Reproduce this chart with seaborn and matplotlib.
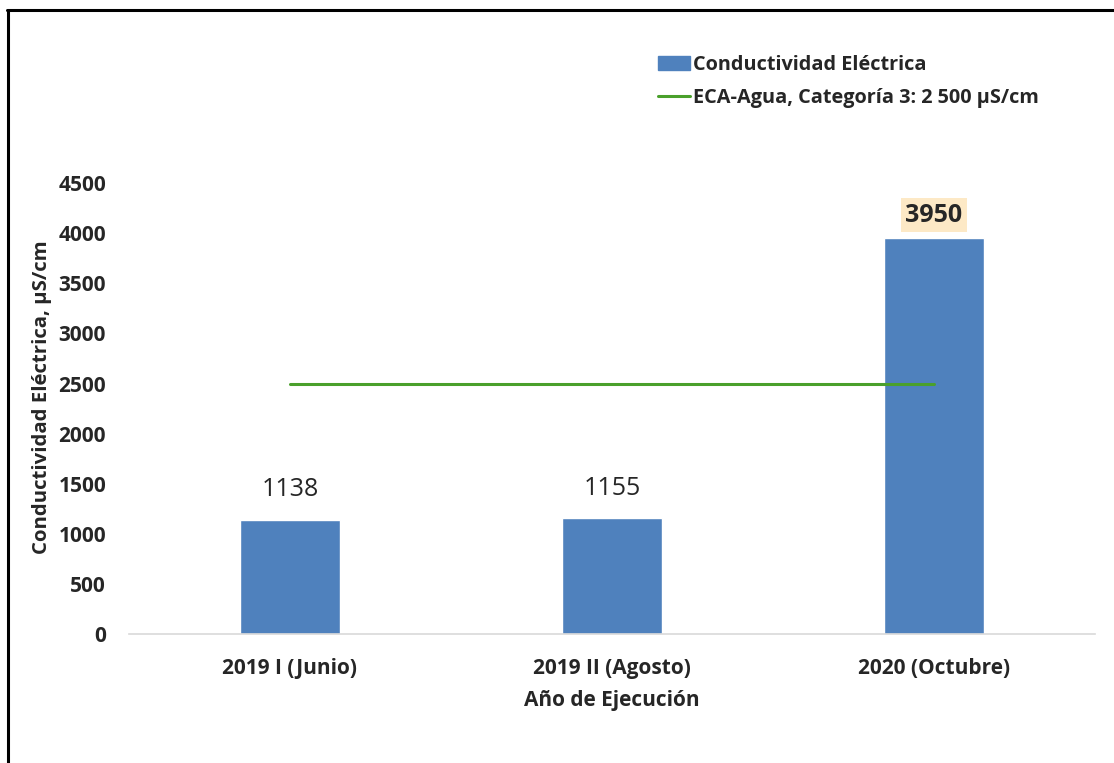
import matplotlib
matplotlib.use("Agg")
import matplotlib.pyplot as plt
import matplotlib.lines as mlines
import matplotlib.patches as mpatches
import pandas as pd
import seaborn as sns

# === data ===
periodos = ['2019 I (Junio)', '2019 II (Agosto)', '2020 (Octubre)']
conductividad = [1138, 1155, 3950]
eca_agua = [2500, 2500, 2500]
yticks = [0, 500, 1000, 1500, 2000, 2500, 3000, 3500, 4000, 4500]

df = pd.DataFrame({'Periodo': periodos, 'CE': conductividad})

sns.set_theme(style="white")
plt.rcParams['font.family'] = ['Open Sans', 'DejaVu Sans']

fig = plt.figure(figsize=(11.14, 7.63), dpi=100)
ax = fig.add_axes([0.1158, 0.169, 0.867, 0.591])

sns.barplot(data=df, x='Periodo', y='CE', color='#4F81BD', width=0.31,
            saturation=1, ax=ax)
ax.plot(range(len(periodos)), eca_agua, color='#4AA02C', lw=2.2)

ax.set_xlim(-0.5, len(periodos) - 0.5)
ax.set_ylim(0, 4500)
ax.set_yticks(yticks)
ax.set_yticklabels([str(t) for t in yticks], fontsize=15, fontweight='bold')
ax.set_xticks(range(len(periodos)))
ax.set_xticklabels(periodos, fontsize=15, fontweight='bold')
ax.tick_params(axis='y', pad=16.5, length=0)
ax.tick_params(axis='x', pad=17.5, length=0)
ax.set_xlabel('Año de Ejecución', fontsize=15, fontweight='bold', labelpad=8)
ax.set_ylabel('Conductividad Eléctrica, µS/cm', fontsize=14.7, fontweight='bold')
ax.yaxis.set_label_coords(-0.08, 0.525)

for s in ['top', 'right', 'left']:
    ax.spines[s].set_visible(False)
ax.spines['bottom'].set_color('#D9D9D9')
ax.spines['bottom'].set_linewidth(1.2)

# data labels
for i, v in enumerate(conductividad):
    if i == len(conductividad) - 1:
        ax.text(i, v + 230, str(v), ha='center', va='center', fontsize=18,
                fontweight='bold',
                bbox=dict(facecolor='#FDE9C6', edgecolor='none', pad=3))
    else:
        ax.text(i, v + 300, str(v), ha='center', va='center', fontsize=18)

# legend
handles = [mpatches.Patch(color='#4F81BD', label='Conductividad Eléctrica'),
           mlines.Line2D([], [], color='#4AA02C', lw=2.2,
                         label='ECA-Agua, Categoría 3: 2 500 µS/cm')]
fig.legend(handles=handles, loc='upper left', bbox_to_anchor=(0.575, 0.951),
           frameon=False, prop={'size': 14.3, 'weight': 'bold'},
           handlelength=1.6, handletextpad=0.15, labelspacing=0.62)

# outer frame (left and top edges)
fig.add_artist(mlines.Line2D([0.0072, 0.0072], [0, 0.987], color='black', lw=2.2,
                             transform=fig.transFigure))
fig.add_artist(mlines.Line2D([0.0063, 1], [0.987, 0.987], color='black', lw=2.2,
                             transform=fig.transFigure))

fig.savefig('out.png', dpi=100)
